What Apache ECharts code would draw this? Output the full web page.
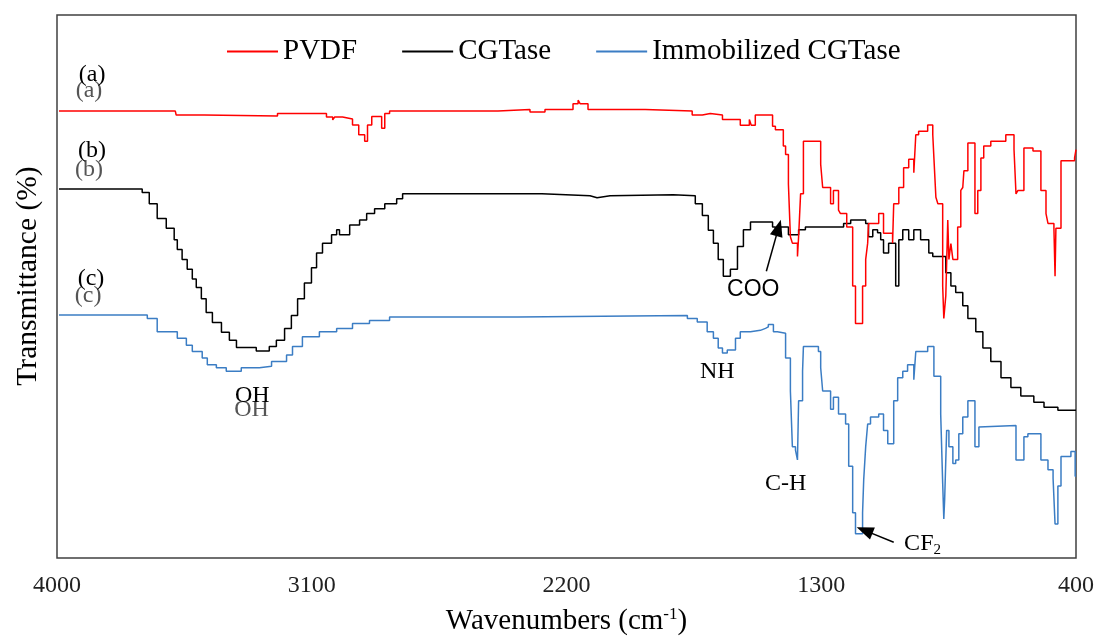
<!DOCTYPE html>
<html>
<head>
<meta charset="utf-8">
<script src="https://cdn.jsdelivr.net/npm/echarts@6/dist/echarts.min.js"></script>
<style>
html,body{margin:0;padding:0;background:#fff;}
#chart{width:1097px;height:641px;}
</style>
</head>
<body>
<div id="chart"></div>
<script>
// Tick labels of the wavenumber axis
var xTicks = [4000, 3100, 2200, 1300, 400];
var seriesNames = ['PVDF', 'CGTase', 'Immobilized CGTase'];

// [wavenumber (cm-1), transmittance (arbitrary, offset spectra)]
var pvdf = [[3993,91.1],[3582,91.1],[3579,90.3],[3480,90.1],[3221,90.6],[3048,89.9],[3026,89.3],[3019,89.9],[2991,89.5],[2956,88.3],[2934,86.3],[2913,85],[2903,88.3],[2888,90],[2853,87.6],[2842,90.6],[2825,91.1],[2442,91.4],[2329,90.9],[2276,91.4],[2177,92.6],[2159,93.3],[2152,92.6],[2124,91.4],[1922,91.1],[1756,90.3],[1720,90.6],[1692,90.3],[1649,89.4],[1586,88.2],[1554,89.4],[1547,88.2],[1533,90.3],[1472,88],[1462,87.3],[1434,84],[1426,82.3],[1416,76.3],[1409,65.6],[1402,64.3],[1384,61.6],[1380,65.6],[1373,74.3],[1363,85],[1310,85],[1302,80.3],[1295,75.6],[1267,72.3],[1257,75],[1239,71],[1232,70.3],[1210,67.6],[1189,55.6],[1179,48],[1154,55.6],[1143,61],[1136,64.3],[1133,68.3],[1097,70.3],[1080,66.3],[1048,64.3],[1044,72.3],[1026,75.6],[1009,79.6],[991,81.3],[973,78.6],[966,86.3],[956,87],[924,88.3],[906,86.3],[902,81.6],[895,73.6],[888,72.3],[871,55.6],[867,49],[860,53.6],[853,69],[849,61],[842,64.2],[835,61],[818,67.6],[807,75],[800,75.6],[796,79],[782,84.6],[757,70.3],[747,75],[736,81.6],[726,84],[701,85],[648,86.3],[619,83.3],[612,74.3],[605,75],[584,83.6],[552,83],[524,75],[506,70.3],[499,68.3],[478,67.3],[474,57.6],[471,67.3],[453,81],[405,81.6],[400,83.3]];

var cgtase = [[3993,75.3],[3699,74.6],[3674,72.3],[3646,69.3],[3614,67.3],[3586,65],[3575,63],[3558,61],[3540,59],[3522,57],[3508,55.3],[3490,53],[3473,50.2],[3451,48.2],[3419,46.2],[3391,44.6],[3366,43.1],[3296,42.4],[3250,43.3],[3225,44.6],[3196,47],[3172,49.6],[3150,53],[3126,56.2],[3101,59.3],[3083,62.3],[3062,64.3],[3030,66],[3012,67],[3002,66],[2966,68],[2931,69],[2906,70.3],[2878,71.3],[2842,72.3],[2800,73.3],[2779,74.3],[2287,73.9],[2117,73.5],[2092,73.9],[2046,74.1],[1823,73.9],[1745,72.3],[1720,69.9],[1699,66.9],[1681,64.3],[1664,61],[1646,57.6],[1621,59],[1596,63.6],[1575,67],[1550,68.6],[1472,67.6],[1462,67],[1444,67.6],[1416,66],[1380,67],[1356,67.6],[1221,68.3],[1196,69],[1143,68.3],[1133,65.6],[1118,67],[1101,66.4],[1090,65],[1080,62.3],[1062,64.3],[1037,55.6],[1026,65],[1012,67],[991,65],[973,67],[949,65],[920,62.3],[906,61.6],[860,58.3],[842,55.6],[825,54.3],[800,51.6],[782,49],[754,46.3],[729,43],[701,40.3],[665,37],[630,35],[595,33.3],[549,32],[513,31],[464,30.4],[400,30.4]];

var immobilized = [[3993,49.7],[3681,49],[3646,46.3],[3575,45],[3543,43.6],[3522,42.3],[3487,41],[3469,39.6],[3437,39],[3402,38.3],[3349,39],[3285,39.3],[3242,40.3],[3189,41.6],[3168,43.3],[3133,45.3],[3073,46.3],[3012,47],[2956,48],[2896,48.6],[2825,49.3],[2372,49.6],[1773,49],[1738,48.3],[1703,46.3],[1681,45],[1664,43],[1649,42],[1632,42.6],[1603,45],[1586,46.3],[1550,46.6],[1515,47],[1497,47.3],[1487,47.8],[1469,46.3],[1455,46],[1426,41],[1409,34.3],[1402,23],[1391,22.3],[1384,20.3],[1380,32.3],[1366,38.3],[1363,43.3],[1310,42.3],[1302,39],[1295,34.3],[1267,30.6],[1257,33],[1239,29.6],[1214,27.6],[1203,19],[1189,9.6],[1179,5.3],[1154,9.6],[1150,16.3],[1143,23],[1136,27.6],[1126,29],[1097,29.6],[1080,26.3],[1065,23.6],[1044,32.3],[1030,37],[1012,38.3],[995,39.6],[973,36.6],[966,42.3],[924,43.3],[902,37.3],[878,29.6],[871,15.6],[867,8.3],[864,12.3],[857,26.3],[849,23],[835,19.6],[825,20.3],[814,25.6],[800,29],[782,32.3],[757,23],[743,27],[736,27.3],[612,20.3],[584,25],[570,25.6],[524,20.3],[499,18.3],[481,16.6],[474,7.3],[464,15],[453,21],[418,22],[403,17],[400,17]];

// Text annotations: [text, wavenumber, value, style]
var annotations = [
  ['(a)', 3887, 95.2, 'ghost'], ['(a)', 3876, 98.4, 'main'],
  ['(b)', 3887, 79.2, 'ghost'], ['(b)', 3876, 83.0, 'main'],
  ['(c)', 3890, 53.6, 'ghost'], ['(c)', 3880, 57.0, 'main'],
  ['OH', 3313, 30.4, 'ghost'], ['OH', 3310, 33.4, 'main'],
  ['NH', 1667, 38.2, 'main'],
  ['C-H', 1426, 15.4, 'main'],
  ['COO', 1540, 54.8, 'sans']
];
// Arrows: [from, to]
var arrows = [
  [[1494, 58.6], [1451, 67.4]],
  [[1044, 3.6], [1147, 6.0]]
];

var serif = 'Liberation Serif, Times New Roman, serif';
var sans = 'Liberation Sans, Arial, sans-serif';

var markPts = annotations.map(function (a) {
  return {
    coord: [a[1], a[2]],
    symbol: 'circle', symbolSize: 1,
    itemStyle: {color: 'rgba(0,0,0,0)'},
    label: {
      show: true, position: 'inside', formatter: a[0],
      fontFamily: a[3] === 'sans' ? sans : serif,
      fontSize: a[3] === 'sans' ? 23 : 24,
      color: a[3] === 'ghost' ? '#555' : '#000'
    }
  };
});
markPts.push({
  coord: [1009, 3.4],
  symbol: 'circle', symbolSize: 1,
  itemStyle: {color: 'rgba(0,0,0,0)'},
  label: {
    show: true, position: 'right', distance: 0,
    formatter: '{a|CF}{b|2}',
    rich: {
      a: {fontFamily: serif, fontSize: 24, color: '#000', verticalAlign: 'middle'},
      b: {fontFamily: serif, fontSize: 15, color: '#000', padding: [14, 0, 0, 0]}
    }
  }
});

var arrowLines = arrows.map(function (ar) {
  return [{coord: ar[0]}, {coord: ar[1]}];
});

var chart = echarts.init(document.getElementById('chart'));
chart.setOption({
  animation: false,
  backgroundColor: '#fff',
  grid: {left: 57, right: 21, top: 15, bottom: 75, show: true, borderColor: '#404040', borderWidth: 1.5, containLabel: false},
  legend: {
    data: seriesNames,
    left: 227, top: 37, padding: 0,
    icon: 'rect', itemWidth: 51, itemHeight: 2, itemGap: 45,
    textStyle: {fontFamily: serif, fontSize: 29, color: '#000'}
  },
  xAxis: {
    type: 'value', inverse: true, min: 400, max: 4000,
    axisLine: {show: false}, axisTick: {show: false}, splitLine: {show: false},
    axisLabel: {
      customValues: xTicks, fontFamily: serif, fontSize: 24, color: '#222', margin: 16,
      formatter: function (v) { return String(v); }
    },
    name: 'Wavenumbers (cm{sup|-1})',
    nameLocation: 'middle', nameGap: 48,
    nameTextStyle: {
      fontFamily: serif, fontSize: 29, color: '#000',
      rich: {sup: {fontFamily: serif, fontSize: 17, color: '#000', padding: [0, 0, 14, 0]}}
    }
  },
  yAxis: {
    type: 'value', min: 0.4, max: 110.6,
    axisLine: {show: false}, axisTick: {show: false}, splitLine: {show: false},
    axisLabel: {show: false}
  },
  graphic: [{
    type: 'text', x: 28, y: 276, rotation: Math.PI / 2,
    style: {text: 'Transmittance (%)', fontFamily: serif, fontSize: 29.5, fill: '#000', align: 'center', verticalAlign: 'middle'}
  }],
  series: [
    {
      name: 'PVDF', type: 'line', step: 'end', data: pvdf, symbol: 'none',
      lineStyle: {color: '#ff0000', width: 1.5}, itemStyle: {color: '#ff0000'}, z: 3
    },
    {
      name: 'CGTase', type: 'line', step: 'end', data: cgtase, symbol: 'none',
      lineStyle: {color: '#000000', width: 1.5}, itemStyle: {color: '#000000'}, z: 2,
      markPoint: {data: markPts, silent: true, animation: false},
      markLine: {
        silent: true, symbol: ['none', 'triangle'], symbolSize: [13, 17],
        lineStyle: {color: '#000', width: 1.5, type: 'solid'},
        label: {show: false}, data: arrowLines, animation: false
      }
    },
    {
      name: 'Immobilized CGTase', type: 'line', step: 'end', data: immobilized, symbol: 'none',
      lineStyle: {color: '#3b7dc4', width: 1.5}, itemStyle: {color: '#3b7dc4'}, z: 2
    }
  ]
});
</script>
</body>
</html>
